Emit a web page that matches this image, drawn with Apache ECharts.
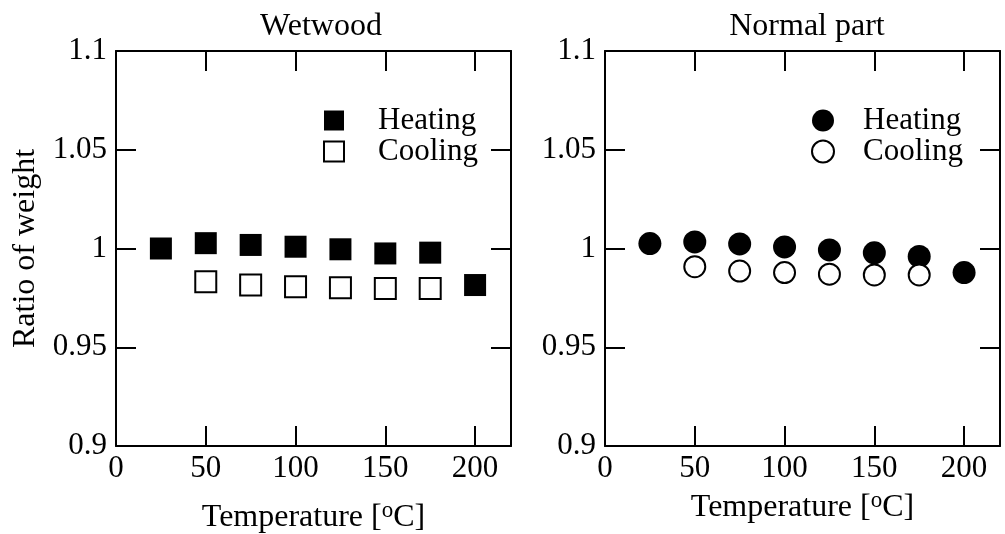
<!DOCTYPE html>
<html>
<head>
<meta charset="utf-8">
<script src="https://cdn.jsdelivr.net/npm/echarts@6/dist/echarts.min.js"></script>
<style>
  html, body { margin: 0; padding: 0; background: #fff; }
  #chart { width: 1005px; height: 534px; }
</style>
</head>
<body>
<div id="chart"></div>
<script>
// Temperatures [°C]
const temps = [25, 50, 75, 100, 125, 150, 175, 200];
const coolTemps = [50, 75, 100, 125, 150, 175];

// Wetwood (squares)
const wetHeating = [1.000, 1.0027, 1.0018, 1.0009, 0.9996, 0.9975, 0.9979, 0.9815];
const wetCooling = [0.9832, 0.9815, 0.9806, 0.9801, 0.9798, 0.9798];

// Normal part (circles)
const normHeating = [1.0025, 1.0033, 1.0023, 1.0008, 0.9993, 0.9978, 0.9960, 0.9878];
const normCooling = [0.9908, 0.9886, 0.9878, 0.9870, 0.9866, 0.9866];

const yTicks = [0.9, 0.95, 1, 1.05, 1.1];

const FONT = "Liberation Serif";
const pair = (xs, ys) => xs.map((x, i) => [x, ys[i]]);

const chart = echarts.init(document.getElementById("chart"), null, { renderer: "canvas" });

const axisLine = { show: true, onZero: false, lineStyle: { color: "#000", width: 2 } };
const tick = { show: true, inside: true, length: 20, lineStyle: { color: "#000", width: 2 } };

const xBase = (gridIndex, position, showLabel, nameGap) => ({
  type: "value",
  gridIndex,
  position,
  min: 0,
  max: 220,
  interval: 50,
  axisLine,
  axisTick: tick,
  splitLine: { show: false },
  axisLabel: {
    show: showLabel,
    showMaxLabel: false,
    color: "#000",
    fontFamily: FONT,
    fontSize: 31,
    margin: 7
  },
  name: showLabel ? "Temperature [{sup|o}C]" : "",
  nameLocation: "middle",
  nameGap,
  nameTextStyle: {
    color: "#000",
    fontFamily: FONT,
    fontSize: 32,
    rich: {
      sup: { fontFamily: FONT, fontSize: 23, color: "#000", padding: [0, 0, 15, 0] }
    }
  }
});

const yBase = (gridIndex, position, showLabel, name) => ({
  type: "value",
  gridIndex,
  position,
  min: 0.9,
  max: 1.1,
  interval: 0.05,
  axisLine,
  axisTick: tick,
  splitLine: { show: false },
  axisLabel: {
    show: showLabel,
    color: "#000",
    fontFamily: FONT,
    fontSize: 31,
    margin: 9,
    formatter: v => {
      const r = Math.round(v * 1000) / 1000;
      return yTicks.includes(r) ? String(r) : "";
    }
  },
  name: name || "",
  nameLocation: "middle",
  nameGap: 74,
  nameTextStyle: { color: "#000", fontFamily: FONT, fontSize: 32 }
});

const filled = { color: "#000", opacity: 1 };
const hollow = { color: "#fff", borderColor: "#000", borderWidth: 2, opacity: 1 };

const legendBase = left => ({
  left, top: 105, orient: "vertical", padding: 0,
  itemWidth: 20, itemHeight: 20, itemGap: 0,
  textStyle: { fontFamily: FONT, fontSize: 31, lineHeight: 28, color: "#000", padding: [0, 0, 0, 29] },
  selectedMode: false
});

const option = {
  animation: false,
  backgroundColor: "#fff",
  title: [
    { text: "Wetwood", left: 316, top: 6, textAlign: "center",
      textStyle: { fontFamily: FONT, fontSize: 32, fontWeight: "normal", color: "#000" } },
    { text: "Normal part", left: 802, top: 6, textAlign: "center",
      textStyle: { fontFamily: FONT, fontSize: 32, fontWeight: "normal", color: "#000" } }
  ],
  grid: [
    { left: 116, top: 51, width: 395, height: 395, outerBoundsMode: "none", containLabel: false },
    { left: 605, top: 51, width: 395, height: 395, outerBoundsMode: "none", containLabel: false }
  ],
  xAxis: [
    xBase(0, "bottom", true, 53),
    xBase(0, "top", false, 0),
    xBase(1, "bottom", true, 43),
    xBase(1, "top", false, 0)
  ],
  yAxis: [
    yBase(0, "left", true, "Ratio of weight"),
    yBase(0, "right", false),
    yBase(1, "left", true),
    yBase(1, "right", false)
  ],
  legend: [
    Object.assign(legendBase(323), {
      data: [
        { name: "Heating", icon: "rect", itemStyle: filled },
        { name: "Cooling", icon: "rect", itemStyle: hollow }
      ]
    }),
    Object.assign(legendBase(811), {
      itemWidth: 22, itemHeight: 22,
      textStyle: { fontFamily: FONT, fontSize: 31, lineHeight: 28, color: "#000", padding: [0, 0, 0, 24] },
      data: [
        { name: "Heating ", icon: "circle", itemStyle: filled },
        { name: "Cooling ", icon: "circle", itemStyle: hollow }
      ]
    })
  ],
  series: [
    { name: "Heating", type: "scatter", xAxisIndex: 0, yAxisIndex: 0, symbol: "rect",
      symbolSize: 22, itemStyle: filled, data: pair(temps, wetHeating) },
    { name: "Cooling", type: "scatter", xAxisIndex: 0, yAxisIndex: 0, symbol: "rect",
      symbolSize: 21, itemStyle: hollow, data: pair(coolTemps, wetCooling) },
    { name: "Heating ", type: "scatter", xAxisIndex: 2, yAxisIndex: 2, symbol: "circle",
      symbolSize: 23, itemStyle: filled, data: pair(temps, normHeating) },
    { name: "Cooling ", type: "scatter", xAxisIndex: 2, yAxisIndex: 2, symbol: "circle",
      symbolSize: 21, itemStyle: hollow, data: pair(coolTemps, normCooling) }
  ]
};

chart.setOption(option);
</script>
</body>
</html>
